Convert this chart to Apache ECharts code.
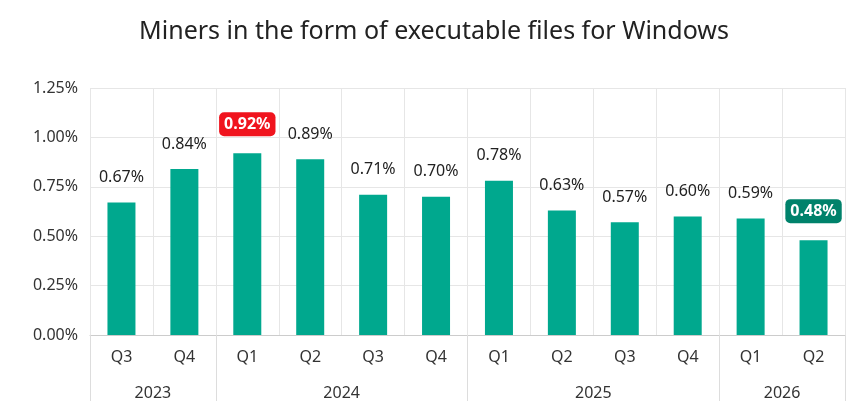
<!DOCTYPE html><html><head><meta charset="utf-8">
<script src="https://cdn.jsdelivr.net/npm/echarts@6/dist/echarts.min.js"></script>
<style>html,body{margin:0;background:#fff}#c{width:868px;height:404px}</style></head><body><div id="c"></div>
<script>
const quarters=['Q3','Q4','Q1','Q2','Q3','Q4','Q1','Q2','Q3','Q4','Q1','Q2'];
const values=[0.67,0.84,0.92,0.89,0.71,0.70,0.78,0.63,0.57,0.60,0.59,0.48];
const years=['2023','2024','2025','2026'];
const yearCenters=[1,4,8,11];
const yearBounds=[0,2,6,10,12];
const yTicks=[0,0.25,0.5,0.75,1,1.25];
const font='Noto Sans';
const chart=echarts.init(document.getElementById('c'));
chart.setOption({
 animation:false,
 textStyle:{fontFamily:font},
 title:{text:'Miners in the form of executable files for Windows',left:'center',top:14,textStyle:{fontFamily:font,fontSize:25,fontWeight:'normal',color:'#222'}},
 grid:{left:90,right:23,top:88,bottom:69},
 xAxis:[{type:'category',data:quarters,axisLine:{lineStyle:{color:'#ccc'}},axisTick:{show:false},
   splitLine:{show:true,lineStyle:{color:'#e6e6e6'}},axisLabel:{color:'#333',fontSize:16,margin:14}},
  {type:'value',min:0,max:12,position:'bottom',axisLine:{show:false},splitLine:{show:false},
   axisTick:{show:true,customValues:yearBounds,length:66,lineStyle:{color:'#ddd'}},
   axisLabel:{customValues:yearCenters,formatter:v=>years[yearCenters.indexOf(v)],margin:50,color:'#333',fontSize:16}}],
 yAxis:{type:'value',min:0,max:1.25,interval:0.25,axisLine:{show:false},axisTick:{show:false},
  splitLine:{lineStyle:{color:'#e6e6e6'}},axisLabel:{formatter:v=>v.toFixed(2)+'%',color:'#333',fontSize:16,margin:12}},
 series:[{type:'bar',data:values,barWidth:28,itemStyle:{color:'#00A88E'},
  label:{show:true,position:'top',distance:17,fontSize:16,color:'#222',
   formatter:p=>{const t=p.value.toFixed(2)+'%';if(p.dataIndex===2)return '{r|'+t+'}';if(p.dataIndex===11)return '{g|'+t+'}';return t;},
   rich:{r:{backgroundColor:'#F0141E',color:'#fff',fontWeight:'bold',fontSize:16,padding:[4,5],borderRadius:5},
         g:{backgroundColor:'#00826B',color:'#fff',fontWeight:'bold',fontSize:16,padding:[4,5],borderRadius:5}}}}]
});
</script></body></html>
